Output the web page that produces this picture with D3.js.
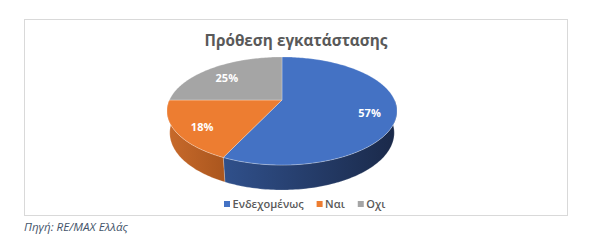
<!DOCTYPE html>
<html>
<head>
<meta charset="utf-8">
<script src="https://cdn.jsdelivr.net/npm/d3@7"></script>
<style>
  body { margin: 0; background: #fff; }
  svg { display: block; }
</style>
</head>
<body>
<svg id="chart" width="596" height="251"></svg>
<script>
var categories = ['Ενδεχομένως', 'Ναι', 'Οχι'];
var values = [57, 18, 25];
var colors = ['#4472c4', '#ed7d31', '#a5a5a5'];
var sideFrom = ['#30508b', '#c86a2b', '#8a8a8a'];
var sideTo = ['#1a2949', '#aa561e', '#6e6e6e'];
var title = 'Πρόθεση εγκατάστασης';
var source = 'Πηγή: RE/MAX Ελλάς';

var w = 596, h = 251;
var svg = d3.select('#chart');
var font = '"Open Sans", "DejaVu Sans", sans-serif';

// shrink/grow a text so it spans about the width seen in the original
function fitWidth(sel, target) {
    var size = +sel.attr('font-size');
    var len = sel.node().getComputedTextLength();
    if (len > 0) sel.attr('font-size', (size * target / len).toFixed(2));
}

// chart frame
svg.append('rect')
    .attr('x', 24.5).attr('y', 19.5)
    .attr('width', 543).attr('height', 196)
    .attr('fill', '#fff')
    .attr('stroke', '#d9d9d9')
    .attr('stroke-width', 1);

var titleText = svg.append('text')
    .attr('x', 296).attr('y', 46)
    .attr('text-anchor', 'middle')
    .attr('font-family', font)
    .attr('font-size', 15)
    .attr('font-weight', 700)
    .attr('fill', '#595959')
    .text(title);
fitWidth(titleText, 183);

// simple perspective projection of a disc tilted towards the viewer
var cx = 282, cy = 100;
var tilt = 27.4 * Math.PI / 180;
var dist = 4.37, focal = 492, thick = 0.22;
var sn = Math.sin(tilt), cs = Math.cos(tilt);

function project(a, r, y) {
    // a: angle clockwise from 12 o'clock, r: radius 0..1, y: height (0 top face)
    var u = r * Math.sin(a);
    var v = -r * Math.cos(a);
    var depth = dist - (y * sn + v * cs);
    var yc = y * cs - v * sn;
    return [cx + focal * u / depth, cy - focal * yc / depth];
}

function arcPoints(a0, a1, y) {
    var n = Math.max(2, Math.ceil(Math.abs(a1 - a0) / 0.02));
    return d3.range(n + 1).map(function(i) {
        return project(a0 + (a1 - a0) * i / n, 1, y);
    });
}

var pie = d3.pie().sort(null).value(function(d) { return d; });
var slices = pie(values);
var line = d3.line();

var defs = svg.append('defs');
var g = svg.append('g');

// front sides (angles between 3 and 9 o'clock face the viewer)
slices.forEach(function(d, i) {
    var a0 = Math.max(d.startAngle, Math.PI / 2);
    var a1 = Math.min(d.endAngle, Math.PI * 1.5);
    if (a1 <= a0) return;
    var top = arcPoints(a0, a1, 0);
    var bottom = arcPoints(a0, a1, -thick).reverse();
    var pts = top.concat(bottom);
    var xs = d3.extent(pts, function(p) { return p[0]; });
    var gid = 'side' + i;
    var grad = defs.append('linearGradient')
        .attr('id', gid)
        .attr('gradientUnits', 'userSpaceOnUse')
        .attr('x1', xs[0]).attr('x2', xs[1])
        .attr('y1', 0).attr('y2', 0);
    grad.append('stop').attr('offset', 0).attr('stop-color', sideFrom[i]);
    grad.append('stop').attr('offset', 1).attr('stop-color', sideTo[i]);
    g.append('path')
        .attr('d', line(pts) + 'Z')
        .attr('fill', 'url(#' + gid + ')')
        .attr('stroke', 'rgba(255,255,255,0.35)')
        .attr('stroke-width', 0.6);
});

// top faces
slices.forEach(function(d, i) {
    var pts = [project(0, 0, 0)].concat(arcPoints(d.startAngle, d.endAngle, 0));
    g.append('path')
        .attr('d', line(pts) + 'Z')
        .attr('fill', colors[i])
        .attr('stroke', 'rgba(255,255,255,0.45)')
        .attr('stroke-width', 0.6)
        .attr('stroke-linejoin', 'round');
});

// data labels
slices.forEach(function(d, i) {
    var mid = (d.startAngle + d.endAngle) / 2;
    var p = project(mid, 0.77, 0);
    g.append('text')
        .attr('x', p[0]).attr('y', p[1] + 4)
        .attr('dy', '0.35em')
        .attr('text-anchor', 'middle')
        .attr('font-family', font)
        .attr('font-size', 11)
        .attr('font-weight', 700)
        .attr('fill', '#ffffff')
        .text(d3.format('.0%')(d.value / d3.sum(values)));
});

// legend
var legend = svg.append('g').attr('transform', 'translate(224,204)');
var xPos = 0;
categories.forEach(function(c, i) {
    var item = legend.append('g').attr('transform', 'translate(' + xPos + ',0)');
    item.append('rect')
        .attr('x', 0).attr('y', -3)
        .attr('width', 6).attr('height', 6)
        .attr('fill', colors[i]);
    var t = item.append('text')
        .attr('x', 8.5).attr('y', 0)
        .attr('dy', '0.35em')
        .attr('font-family', font)
        .attr('font-size', 11)
        .attr('font-weight', 600)
        .attr('fill', '#595959')
        .text(c);
    xPos += 8.5 + t.node().getComputedTextLength() + 13;
});

var sourceText = svg.append('text')
    .attr('x', 24).attr('y', 231)
    .attr('font-family', font)
    .attr('font-size', 10)
    .attr('font-style', 'italic')
    .attr('fill', '#44546a')
    .text(source);
fitWidth(sourceText, 104);
</script>
</body>
</html>
